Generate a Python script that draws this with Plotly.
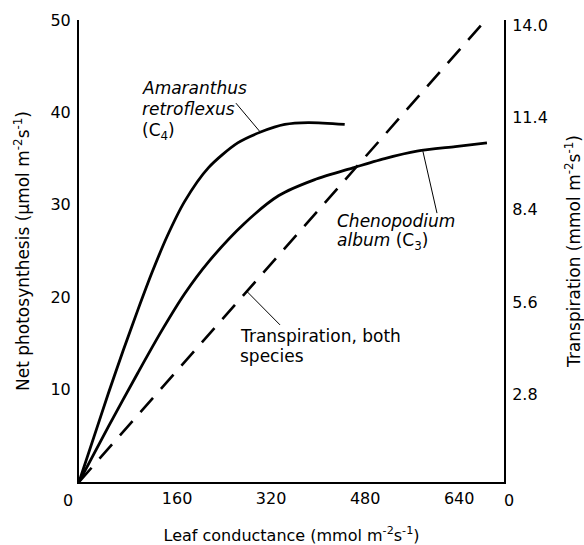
import plotly.graph_objects as go

# Leaf conductance (mmol m-2 s-1) and net photosynthesis (umol m-2 s-1)
amaranthus_x = [0, 25, 50, 75, 100, 125, 150, 180, 220, 270, 310, 350, 390, 452]
amaranthus_y = [0, 4.8, 9.6, 14.2, 18.6, 22.8, 26.6, 30.4, 34.0, 36.7, 37.9, 38.7, 38.9, 38.7]

chenopodium_x = [0, 50, 100, 140, 180, 220, 280, 340, 400, 466, 520, 575, 640, 694]
chenopodium_y = [0, 6.0, 11.8, 16.3, 20.4, 23.8, 27.9, 31.0, 32.7, 34.0, 35.0, 35.8, 36.3, 36.7]

# Transpiration (mmol m-2 s-1), both species
transp_x = [0, 687]
transp_y = [0, 13.9]

x_ticks = [160, 320, 480, 640]
y_ticks = [10, 20, 30, 40, 50]
y2_ticks = [2.8, 5.6, 8.4, 11.2, 14.0]
y2_ticktext = ["2.8", "5.6", "8.4", "11.4", "14.0"]

FONT = "DejaVu Sans, Verdana, sans-serif"
BLACK = "#000000"
TICK = 16
XTITLE = 16
YTITLE = 17
LABEL = 17

fig = go.Figure()
fig.add_trace(go.Scatter(x=amaranthus_x, y=amaranthus_y, mode="lines",
                         line=dict(color=BLACK, width=2.8, shape="spline", smoothing=0.8),
                         showlegend=False, hoverinfo="skip"))
fig.add_trace(go.Scatter(x=chenopodium_x, y=chenopodium_y, mode="lines",
                         line=dict(color=BLACK, width=2.8, shape="spline", smoothing=0.8),
                         showlegend=False, hoverinfo="skip"))
fig.add_trace(go.Scatter(x=transp_x, y=transp_y, mode="lines", yaxis="y2",
                         line=dict(color=BLACK, width=2.6, dash="19px,12px"),
                         showlegend=False, hoverinfo="skip"))

fig.update_layout(
    width=584, height=545,
    margin=dict(l=79, r=80, t=20, b=63, autoexpand=False),
    paper_bgcolor="white", plot_bgcolor="white",
    font=dict(family=FONT, size=TICK, color=BLACK),
    xaxis=dict(range=[0, 723], showgrid=False, zeroline=False, automargin=False,
               showline=True, linecolor=BLACK, linewidth=2,
               tickvals=x_ticks, ticks="", ticklabelshift=4, ticklabelstandoff=1,
               tickfont=dict(size=TICK),
               title=dict(text="Leaf conductance (mmol m<sup>-2</sup>s<sup>-1</sup>)",
                          standoff=23, font=dict(size=XTITLE))),
    yaxis=dict(range=[0, 50], showgrid=False, zeroline=False, automargin=False,
               showline=True, linecolor=BLACK, linewidth=2,
               tickvals=y_ticks, ticks="", ticklabelstandoff=3,
               tickfont=dict(size=TICK),
               title=dict(text="Net photosynthesis (µmol m<sup>-2</sup>s<sup>-1</sup>)",
                          standoff=16, font=dict(size=YTITLE))),
    yaxis2=dict(range=[0, 14], overlaying="y", side="right", showgrid=False, zeroline=False,
                automargin=False,
                showline=True, linecolor=BLACK, linewidth=2,
                tickvals=y2_ticks, ticktext=y2_ticktext, ticks="", ticklabelstandoff=3,
                ticklabelshift=5, tickfont=dict(size=TICK),
                title=dict(text="Transpiration (mmol m<sup>-2</sup>s<sup>-1</sup>)",
                           standoff=22, font=dict(size=YTITLE))),
)

# origin "0" labels
fig.add_annotation(x=0, y=0, xref="x", yref="y", text="0", showarrow=False,
                   xshift=-11, yshift=-18, font=dict(size=TICK))
fig.add_annotation(x=1, y=0, xref="paper", yref="y", text="0", showarrow=False,
                   xshift=12, yshift=-18, font=dict(size=TICK))

# Amaranthus label
for txt, yy in [("<i>Amaranthus</i>", 42.6), ("<i>retroflexus</i>", 40.4), ("(C<sub>4</sub>)", 37.9)]:
    fig.add_annotation(x=104, y=yy, xref="x", yref="y", text=txt, showarrow=False,
                       xanchor="left", yanchor="middle", font=dict(size=LABEL))
fig.add_shape(type="line", x0=267, y0=41.0, x1=308, y1=37.9, xref="x", yref="y",
              line=dict(color=BLACK, width=1))

# Chenopodium label
for txt, yy in [("<i>Chenopodium</i>", 28.2), ("<i>album</i> (C<sub>3</sub>)", 26.0)]:
    fig.add_annotation(x=435, y=yy, xref="x", yref="y", text=txt, showarrow=False,
                       xanchor="left", yanchor="middle", font=dict(size=LABEL))
fig.add_shape(type="line", x0=585, y0=35.8, x1=609, y1=29.1, xref="x", yref="y",
              line=dict(color=BLACK, width=1))

# Transpiration label
for txt, yy in [("Transpiration, both", 15.8), ("species", 13.6)]:
    fig.add_annotation(x=270, y=yy, xref="x", yref="y", text=txt, showarrow=False,
                       xanchor="left", yanchor="middle", font=dict(size=LABEL))
fig.add_shape(type="line", x0=286, y0=20.6, x1=342, y1=17.0, xref="x", yref="y",
              line=dict(color=BLACK, width=1))

fig.write_html("out.html")
